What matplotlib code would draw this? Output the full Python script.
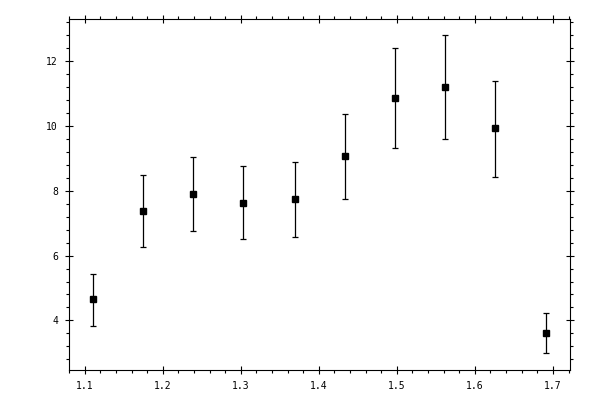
from matplotlib import pyplot as plt
from matplotlib.ticker import MultipleLocator, FormatStrFormatter
import numpy as np

# values
x_vals = [1.110, 1.175, 1.239, 1.303, 1.369, 1.433, 1.498, 1.562, 1.626, 1.691]
y_vals = [4.65, 7.37, 7.89, 7.61, 7.74, 9.07, 10.86, 11.20, 9.93, 3.60]
y_upper = [5.44, 8.48, 9.04, 8.76, 8.88, 10.38, 12.39, 12.80, 11.40, 4.22]
y_lower = [3.82, 6.26, 6.75, 6.50, 6.58, 7.74, 9.31, 9.59, 8.42, 2.98]

y = np.array(y_vals)
err = [y - np.array(y_lower), np.array(y_upper) - y]

fig = plt.figure(figsize=(6, 4), dpi=100)
ax = fig.add_axes([69 / 600, 1 - 370.3 / 400, (570 - 69) / 600, (370.3 - 19) / 400])

ax.errorbar(
    x_vals,
    y_vals,
    yerr=err,
    fmt="s",
    color="black",
    markersize=5,
    elinewidth=0.9,
    capsize=2,
    capthick=0.9,
)

ax.set_xlim(1.0798, 1.7219)
ax.set_ylim(2.46, 13.30)
ax.xaxis.set_major_locator(MultipleLocator(0.1))
ax.xaxis.set_minor_locator(MultipleLocator(0.02))
ax.yaxis.set_major_locator(MultipleLocator(2))
ax.yaxis.set_minor_locator(MultipleLocator(0.4))
ax.xaxis.set_major_formatter(FormatStrFormatter("%.1f"))
ax.yaxis.set_major_formatter(FormatStrFormatter("%d"))

for s in ax.spines.values():
    s.set_linewidth(0.8)
ax.tick_params(which="major", direction="inout", length=6, width=0.8,
               top=True, right=True, labelsize=7, pad=5)
ax.tick_params(which="minor", direction="out", length=2.5, width=0.8,
               top=True, right=True)
for lab in ax.get_xticklabels() + ax.get_yticklabels():
    lab.set_family("DejaVu Sans Mono")

fig.savefig("out.png", dpi=100)
